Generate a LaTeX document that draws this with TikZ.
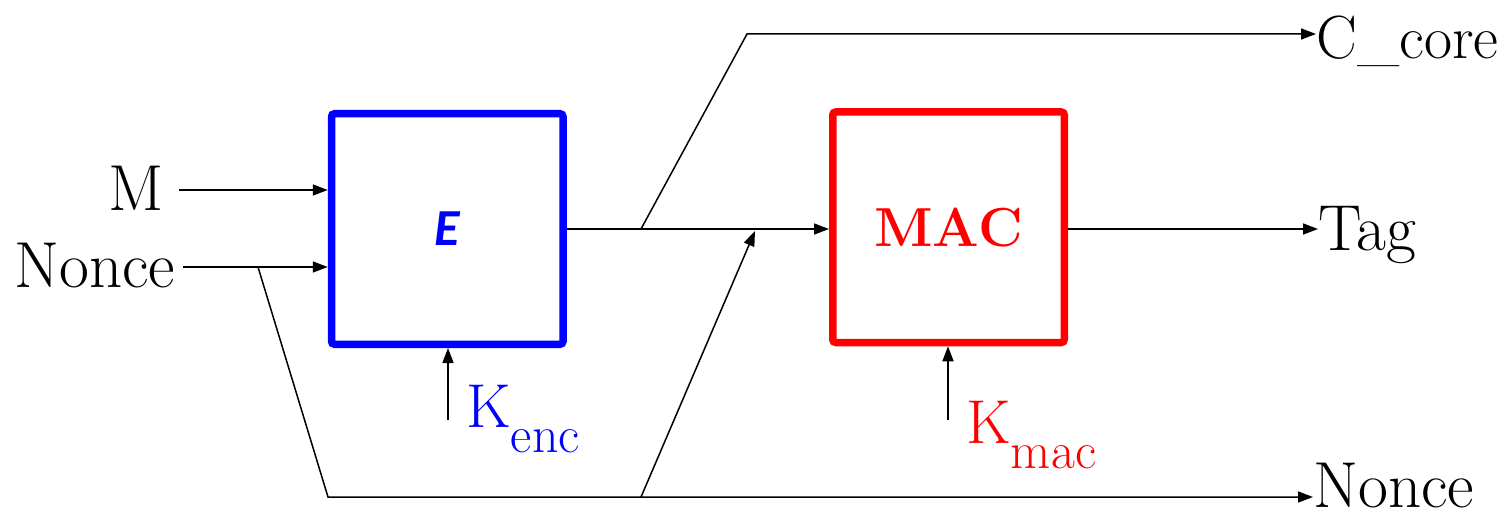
\documentclass[tikz,border=0pt]{standalone}
\usepackage{fontspec}
\newfontfamily\boxfont{Carlito}
\usetikzlibrary{arrows.meta}
\definecolor{encblue}{RGB}{0,0,255}
\definecolor{macred}{RGB}{255,0,0}

\begin{document}
\begin{tikzpicture}[x=0.5pt,y=-0.5pt,
  wire/.style={line width=0.75pt, draw=black},
  arr/.style={wire,-{Triangle[length=7.5pt,width=5.5pt]}},
  block/.style={draw, line width=3.75pt, rounded corners=1.5pt,
    minimum width=115.75pt, minimum height=115.25pt,
    inner sep=0pt, outer sep=1.875pt},
  lbl/.style={inner sep=0pt, font=\rmfamily\fontsize{32.5}{38}\selectfont},
  keylbl/.style={inner sep=0pt, anchor=base west, font=\rmfamily\fontsize{31}{36}\selectfont},
]
\useasboundingbox (0,0) rectangle (1509,519);

% the two blocks
\node[block, draw=encblue, text=encblue,
  font=\boxfont\bfseries\itshape\fontsize{26}{30}\selectfont] (E) at (447.25,229) {E};
\node[block, draw=macred, text=macred,
  font=\rmfamily\bfseries\fontsize{27.5}{32}\selectfont] (MAC) at (948.5,227.25) {MAC};

% inputs and outputs
\node[lbl, anchor=base east] (M) at (164,210) {M};
\node[lbl, anchor=base west] (nin) at (14,287) {Nonce};
\node[lbl, anchor=base west, font=\rmfamily\fontsize{30.5}{36}\selectfont] (cc) at (1316,59) {C\_core};
\node[lbl, anchor=base west] (tag) at (1318,250) {Tag};
\node[lbl, anchor=base west] (nout) at (1313,507) {Nonce};

% keys
\node[keylbl, text=encblue] (kenc) at (466,427)
  {K\lower12.5pt\hbox{\fontsize{26}{30}\selectfont enc}};
\node[keylbl, text=macred] (kmac) at (966,443)
  {K\lower12.5pt\hbox{\fontsize{26}{30}\selectfont mac}};

% wiring points
\coordinate (min) at (179,190);
\coordinate (nin0) at (183,267);
\coordinate (nsplit) at (258,267);
\coordinate (nlow) at (328,497);
\coordinate (csplit) at (641,229);
\coordinate (cup) at (747,34);
\coordinate (nbr) at (641,497);
\coordinate (jn) at (755,231);
\coordinate (kencfoot) at (448,420);
\coordinate (kmacfoot) at (948,420);

% connectors
\draw[arr] (min) -- (min -| E.west);
\draw[arr] (nin0) -- (nin0 -| E.west);
\draw[arr] (nsplit) -- (nlow) -- (nlow -| nout.west);
\draw[arr] (nbr) -- (jn);
\draw[arr] (E.east |- csplit) -- (csplit -| MAC.west);
\draw[arr] (csplit) -- (cup) -- (cup -| cc.west);
\draw[arr] (MAC.east |- csplit) -- (csplit -| tag.west);
\draw[arr] (kencfoot) -- (kencfoot |- E.south);
\draw[arr] (kmacfoot) -- (kmacfoot |- MAC.south);
\end{tikzpicture}
\end{document}
